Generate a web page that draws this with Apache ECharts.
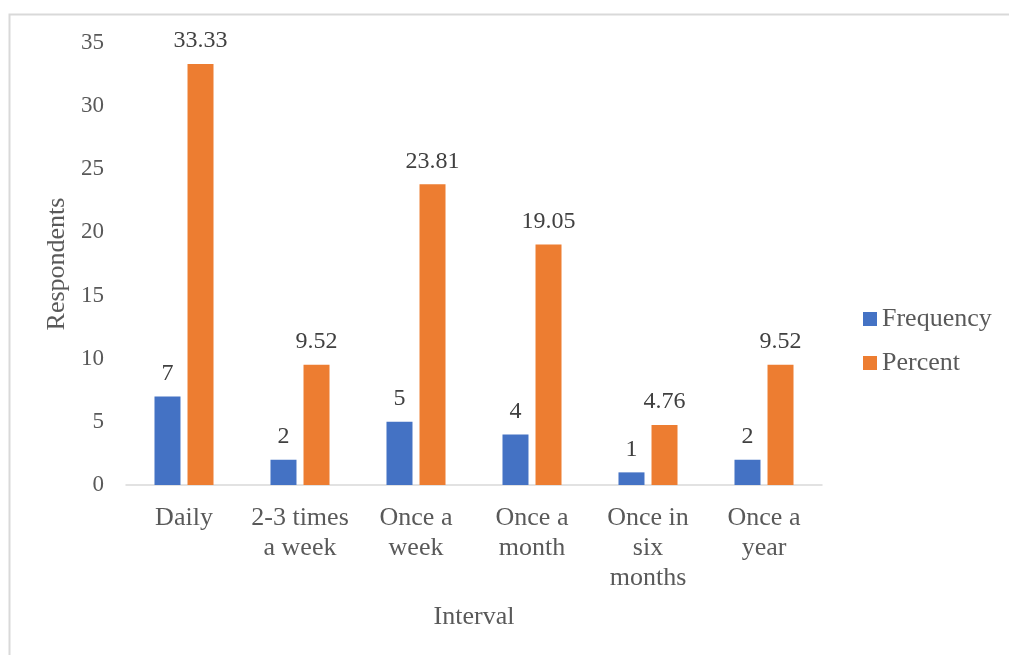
<!DOCTYPE html>
<html>
<head>
<meta charset="utf-8">
<script src="https://cdn.jsdelivr.net/npm/echarts@6/dist/echarts.min.js"></script>
<style>
  html, body { margin: 0; padding: 0; background: #ffffff; }
  #chart { width: 1009px; height: 655px; }
</style>
</head>
<body>
<div id="chart"></div>
<script>
// Survey: how often respondents use the service
const categories = ['Daily', '2-3 times\na week', 'Once a\nweek', 'Once a\nmonth', 'Once in\nsix\nmonths', 'Once a\nyear'];
const frequency = [7, 2, 5, 4, 1, 2];
const percent = [33.33, 9.52, 23.81, 19.05, 4.76, 9.52];
const yTicks = { min: 0, max: 35, interval: 5 };

const FONT = "'Liberation Serif', 'Times New Roman', serif";
const TEXT = '#595959';

const labelStyle = {
  show: true,
  position: 'top',
  distance: 11,
  fontFamily: FONT,
  fontSize: 24,
  color: '#404040'
};

const chart = echarts.init(document.getElementById('chart'), null, { renderer: 'canvas' });

chart.setOption({
  animation: false,
  backgroundColor: '#ffffff',
  textStyle: { fontFamily: FONT },
  graphic: [{
    type: 'rect',
    shape: { x: 9.5, y: 14.5, width: 1100, height: 700 },
    style: { fill: 'none', stroke: '#d9d9d9', lineWidth: 2 },
    silent: true
  }],
  grid: { left: 126, right: 187, top: 43, bottom: 170 },
  legend: {
    orient: 'vertical',
    left: 863,
    top: 306,
    padding: 0,
    itemWidth: 14,
    itemHeight: 14,
    itemGap: 18,
    icon: 'rect',
    textStyle: { fontFamily: FONT, fontSize: 26, color: TEXT, lineHeight: 26 },
    data: ['Frequency', 'Percent']
  },
  xAxis: {
    type: 'category',
    data: categories,
    name: 'Interval',
    nameLocation: 'middle',
    nameGap: 119,
    nameTextStyle: { fontFamily: FONT, fontSize: 26, color: TEXT },
    axisLine: { lineStyle: { color: '#d9d9d9', width: 1.5 } },
    axisTick: { show: false },
    axisLabel: {
      interval: 0,
      margin: 18,
      fontFamily: FONT,
      fontSize: 26,
      lineHeight: 30,
      color: TEXT
    }
  },
  yAxis: {
    type: 'value',
    min: yTicks.min,
    max: yTicks.max,
    interval: yTicks.interval,
    name: 'Respondents',
    nameLocation: 'middle',
    nameGap: 50,
    nameTextStyle: { fontFamily: FONT, fontSize: 26, color: TEXT },
    axisLine: { show: false },
    axisTick: { show: false },
    splitLine: { show: false },
    axisLabel: { margin: 22, fontFamily: FONT, fontSize: 23, color: TEXT }
  },
  series: [
    {
      name: 'Frequency',
      type: 'bar',
      data: frequency,
      barWidth: 26,
      barGap: '27%',
      itemStyle: { color: '#4472C4' },
      label: labelStyle
    },
    {
      name: 'Percent',
      type: 'bar',
      data: percent,
      barWidth: 26,
      itemStyle: { color: '#ED7D31' },
      label: labelStyle
    }
  ]
});
</script>
</body>
</html>
